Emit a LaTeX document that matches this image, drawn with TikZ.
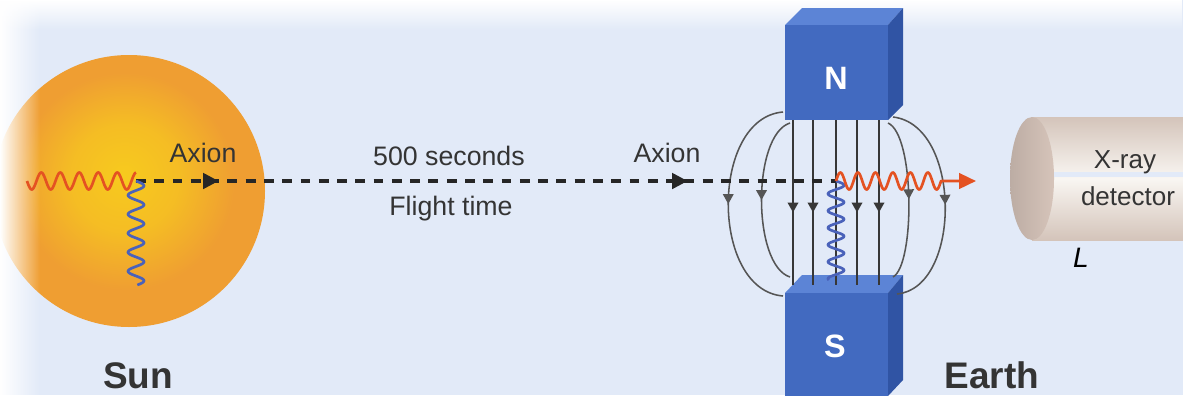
\documentclass[tikz,border=0pt]{standalone}
\usepackage{fontspec}
\setmainfont{Liberation Sans}
\usetikzlibrary{arrows.meta, decorations.markings, fadings}

\definecolor{bgblue}{RGB}{226,234,248}
\definecolor{sunyellow}{RGB}{247,202,30}
\definecolor{sunorange}{RGB}{239,158,50}
\definecolor{photonred}{RGB}{228,82,34}
\definecolor{photonblue}{RGB}{74,98,186}
\definecolor{magfront}{RGB}{66,106,192}
\definecolor{magtop}{RGB}{92,132,214}
\definecolor{magside}{RGB}{48,84,164}
\definecolor{fieldgray}{RGB}{55,55,55}
\definecolor{loopgray}{RGB}{85,85,85}
\definecolor{detbeige}{RGB}{212,196,186}
\definecolor{detlight}{RGB}{249,246,242}
\definecolor{capbeige}{RGB}{214,196,186}
\definecolor{textgray}{RGB}{52,52,52}

\pgfdeclareradialshading{sunglow}{\pgfpoint{-1bp}{3bp}}{%
  color(0bp)=(sunyellow); color(10bp)=(sunyellow!70!sunorange);
  color(20bp)=(sunorange); color(25bp)=(sunorange); color(50bp)=(sunorange)}

\begin{document}
\begin{tikzpicture}[
    x=0.025cm, y=-0.025cm,
    lbl/.style={font=\fontsize{19}{22}\selectfont, text=textgray},
    bigtag/.style={font=\fontsize{26.3}{30}\selectfont\bfseries, text=textgray, anchor=base},
    pole/.style={font=\fontsize{23}{26}\selectfont\bfseries, text=white},
    axion/.style={line width=2.3pt, dash pattern=on 7pt off 6pt, black!85},
    wave/.style={line width=1.9pt, line join=round},
    field/.style={fieldgray, line width=1.3pt},
    fieldarrow/.style={field, postaction={decorate}, decoration={markings, mark=at position #1 with {\arrow{Triangle[length=7pt,width=7.5pt]}}}},
    fieldloop/.style={fieldarrow=#1, loopgray, line width=1.1pt},
]
    \useasboundingbox (0,0) rectangle (1183,395);
    \clip (0,0) rectangle (1183,395);
    \fill[bgblue] (0,0) rectangle (1183,395);

    % the sun
    \shade[shading=sunglow] (129,191) circle (136);

    % soft white border
    \fill[white, path fading=east] (0,0) rectangle (40,395);
    \fill[white, path fading=south] (0,0) rectangle (1183,30);

    \coordinate (emit) at (136,181);
    \coordinate (conv) at (836,181);
    \coordinate (xray) at (976,181);

    % magnet poles
    \fill[magtop] (785,25) -- (802,8) -- (903,8) -- (888,25) -- cycle;
    \fill[magside] (888,25) -- (903,8) -- (903,105) -- (888,120) -- cycle;
    \fill[magfront] (785,25) rectangle (888,120);
    \node[pole] (npole) at (836,78) {N};

    \fill[magtop] (785,293) -- (802,275) -- (903,275) -- (888,293) -- cycle;
    \fill[magside] (888,293) -- (903,275) -- (903,380) -- (888,396) -- cycle;
    \fill[magfront] (785,293) rectangle (888,396);
    \node[pole] (spole) at (835,346) {S};

    % field lines
    \foreach \fx in {793,813,857,879}
        \draw[fieldarrow=0.56] (\fx,120) -- (\fx,285);
    \draw[field] (836,120) -- (836,285);
    \draw[fieldloop=0.5] (783,112) .. controls (710,118) and (710,290) .. (783,296);
    \draw[fieldloop=0.5] (790,123) .. controls (752,135) and (752,265) .. (790,277);
    \draw[fieldloop=0.5] (888,123) .. controls (915,135) and (915,265) .. (893,277);
    \draw[fieldloop=0.5] (893,117) .. controls (962,125) and (962,288) .. (897,294);

    % x-ray detector
    \shade[top color=detbeige, bottom color=detbeige, middle color=detlight] (1032,117) rectangle (1190,240);
    \fill[bgblue] (1053,172) rectangle (1190,177);
    \shade[left color=capbeige!88!black, right color=capbeige] (1032,178.5) ellipse [x radius=22, y radius=61.5];
    \node[lbl, font=\fontsize{18.5}{21}\selectfont] (xlbl) at (1125,162) {X-ray};
    \node[lbl, font=\fontsize{18.5}{21}\selectfont] (dlbl) at (1128,196) {detector};
    \node[font=\fontsize{20}{22}\selectfont\itshape] (len) at (1081,258) {L};

    % axion path
    \draw[axion, postaction={decorate}, decoration={markings,
        mark=at position 0.118 with {\arrow{Triangle[length=11pt,width=11pt]}},
        mark=at position 0.788 with {\arrow{Triangle[length=11pt,width=11pt]}}}] (emit) -- (conv);

    % photons
    \draw[wave, photonred] plot[domain=27:136, samples=160] (\x, {181+8.5*sin(18.947*(\x-27))});
    \draw[wave, photonblue] plot[domain=181:285, samples=160] ({136+8*sin(18.947*(\x-181))}, \x);
    \draw[wave, photonblue] plot[domain=181:280, samples=160] ({836+8*sin(21.176*(\x-181))}, \x);
    \draw[wave, photonred, -{Triangle[length=12pt,width=11pt]}]
        plot[domain=836:941, samples=160] (\x, {181-8.5*sin(20.571*(\x-836))}) -- (xray);

    % labels
    \node[lbl] (axsun) at (203,153) {Axion};
    \node[lbl] (axmag) at (667,153) {Axion};
    \node[lbl] (secs) at (449,156) {500 seconds};
    \node[lbl] (flight) at (451,209) {Flight time};
    \node[bigtag] (sunlbl) at (138,388) {Sun};
    \node[bigtag] (earthlbl) at (992,388) {Earth};
\end{tikzpicture}
\end{document}
